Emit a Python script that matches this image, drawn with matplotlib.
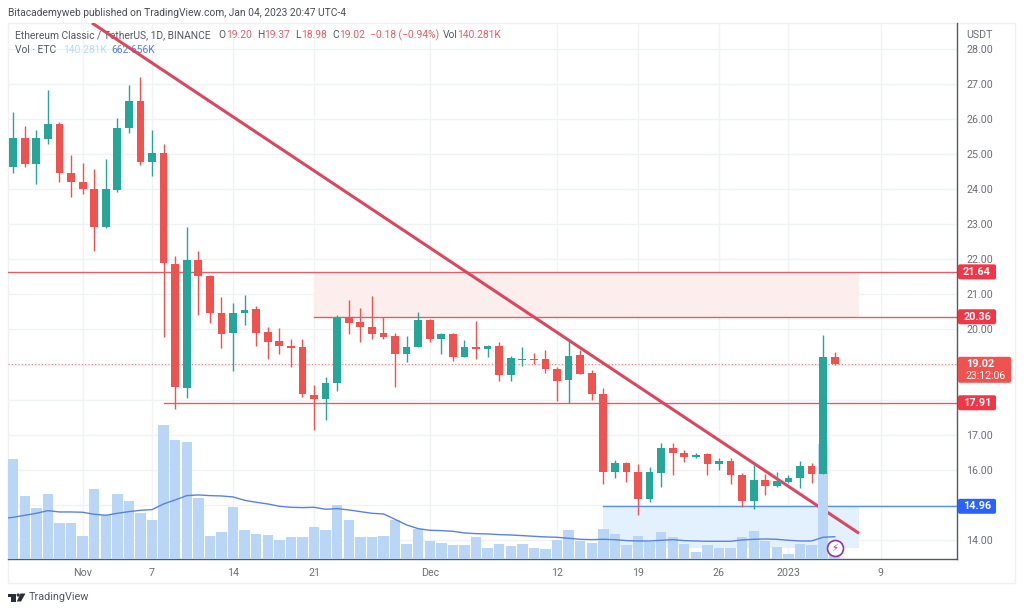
import matplotlib
matplotlib.use("Agg")
import matplotlib.pyplot as plt
from matplotlib.patches import FancyBboxPatch, Polygon, Circle, Rectangle
from matplotlib.transforms import Affine2D
import numpy as np

plt.rcParams['font.family'] = ['Roboto', 'DejaVu Sans']

# days counted from Nov 1 2022, first candle is Oct 26
days = np.arange(-6, 66)
opens = [24.64,25.45,24.71,25.43,25.84,24.46,24.21,23.99,22.93,23.97,25.73,26.50,24.78,25.02,21.86,18.32,21.98,21.53,
         20.48,19.89,20.46,20.57,19.92,19.67,19.54,19.49,18.14,18.01,18.48,20.34,20.20,20.08,19.89,19.81,19.30,19.49,
         20.27,19.72,19.86,19.21,19.49,19.43,19.54,18.69,19.13,19.16,19.15,18.88,18.55,19.27,18.76,18.17,15.93,16.19,
         15.95,15.17,15.91,16.63,16.49,16.37,16.46,16.17,16.26,15.85,15.10,15.70,15.54,15.66,15.76,16.12,15.88,19.20]
closes = [25.44,24.71,25.45,25.84,24.46,24.21,23.99,22.93,23.99,25.74,26.50,24.78,25.02,21.88,18.35,21.98,21.53,20.46,
          19.87,20.48,20.54,19.89,19.64,19.53,19.47,18.16,18.01,18.46,20.33,20.18,20.06,19.87,19.79,19.30,19.49,20.27,
          19.72,19.86,19.21,19.49,19.43,19.54,18.69,19.18,19.16,19.13,18.87,18.52,19.24,18.74,18.16,15.94,16.19,15.93,
          15.17,15.93,16.63,16.47,16.37,16.43,16.17,16.24,15.85,15.10,15.70,15.54,15.68,15.77,16.12,15.88,19.21,19.02]
highs = [26.20,25.80,25.68,26.82,25.91,24.97,24.74,24.57,24.86,26.01,26.96,27.18,25.68,25.27,22.10,22.93,22.24,21.55,
         20.91,20.74,20.98,20.67,20.06,20.03,19.73,19.72,18.42,18.65,20.41,20.84,20.62,20.96,20.36,19.91,19.82,20.49,
         20.29,19.91,19.91,19.70,20.25,19.56,19.64,19.24,19.49,19.34,19.41,18.93,19.74,19.41,18.84,18.34,16.28,16.23,
         16.17,16.09,16.77,16.75,16.56,16.47,16.49,16.33,16.33,15.90,16.14,15.88,15.95,15.85,16.26,16.19,19.84,19.37]
lows = [24.45,24.64,24.14,25.27,24.21,23.77,23.86,22.24,22.88,23.91,25.59,24.68,24.38,19.79,17.72,18.05,20.41,20.17,
        19.46,18.81,20.13,19.53,19.16,19.29,18.94,18.07,17.13,17.42,18.25,19.86,19.64,19.72,19.72,18.37,19.08,19.49,
        19.65,19.30,19.11,19.21,19.15,19.21,18.54,18.54,18.97,19.01,18.75,17.96,17.89,18.74,17.99,15.60,15.76,15.66,
        14.71,15.09,15.52,15.85,16.23,16.34,15.85,15.99,15.60,14.95,14.87,15.28,15.52,15.62,15.47,15.63,15.88,18.98]
# volume in thousands of ETC
volume = [2931,1866,1514,1905,1065,1065,684,2071,1290,1905,1700,1348,1153,3937,3498,3429,1798,684,791,1544,860,743,713,
          567,664,645,957,860,1583,1143,664,645,684,1153,449,889,547,489,410,410,664,332,449,401,440,332,303,567,860,
          547,489,889,743,420,684,518,811,655,440,205,410,332,332,655,840,537,361,156,449,420,3380,140]
# the average starts one day earlier, the pane cuts that candle off
ma_days = np.arange(-7, 66)
vol_ma = [1190,1231,1290,1348,1426,1387,1387,1378,1319,1290,1348,1397,1436,1456,1622,1739,1866,1886,1866,1856,1827,1729,
          1671,1622,1553,1524,1514,1524,1466,1485,1446,1397,1348,1329,1172,1006,899,850,840,821,772,752,743,723,713,694,
          674,655,645,616,586,576,586,576,547,537,537,557,576,547,537,528,528,528,567,586,596,586,557,537,537,645,663]

tick_days = [0, 6, 13, 20, 30, 41, 48, 55, 61, 69]
tick_names = ['Nov', '7', '14', '21', 'Dec', '12', '19', '26', '2023', '9']
price_ticks = list(range(14, 29))
hidden_prices = [15, 18, 19]

level_resist_hi = 21.64
level_resist_lo = 20.36
level_support = 17.91
level_blue = 14.96
last_price = 19.02
blue_zone_low = 13.76
trend_days = [0.81, 67.1]
trend_prices = [28.73, 14.19]

TEAL = '#26a69a'
RED = '#ef5350'
TAG_RED = '#f23645'
BLUE = '#2962ff'
GRID = '#eff3f4'
GREY = '#6b6e78'
TXT = '#555862'

W, H = 1024, 613
fig = plt.figure(figsize=(W / 100, H / 100), dpi=100, facecolor='white')
# chart pane in pixels: x 8..957, y 23..559.3
ax = fig.add_axes([8 / W, 1 - 559.3 / H, 949 / W, 536.3 / H])
ax.set_xlim(-6.45, 75.57)
ax.set_ylim(13.45, 28.73)
px = Affine2D().scale(1, -1).translate(0, H)


def price_y(p):
    return 540 - (p - 14) * 35.1


def ptext(x, y, s, color=TXT, size=7.4, **kw):
    return ax.text(x, y, s, color=color, fontsize=size, transform=px, va='center', clip_on=False, zorder=2, **kw)


# zones and levels
ax.add_patch(Rectangle((20, level_resist_lo), 47.1, level_resist_hi - level_resist_lo, color='#fdeeee', lw=0, zorder=1))
ax.add_patch(Rectangle((45, blue_zone_low), 22.1, level_blue - blue_zone_low, color='#e3f0fd', lw=0, zorder=1))
ax.plot([-6.45, 75.57], [level_resist_hi] * 2, color='#e0606a', lw=1, zorder=1.5)
ax.plot([20, 75.57], [level_resist_lo] * 2, color='#e0606a', lw=1, zorder=1.5)
ax.plot([7, 75.57], [level_support] * 2, color='#e0606a', lw=1, zorder=1.5)
ax.plot([45, 75.57], [level_blue] * 2, color='#5b8fe0', lw=1, zorder=1.5)
ax.plot([-6.45, 75.57], [last_price] * 2, color='#ef7a78', lw=0.8, ls=(0, (1, 2)), zorder=1.5)
ax.plot(trend_days, trend_prices, color='#d9485f', lw=2.2, zorder=3, solid_capstyle='butt')

# volume pane shares the price pane, scaled so the big bar fits low down
vax = ax.twinx()
vax.set_position(ax.get_position())
vax.set_ylim(0, 536.3 * 29.3)
vax.axis('off')
vax.bar(days, volume, width=0.9, color='#b9d6f7', lw=0, zorder=4)
vax.plot(ma_days, vol_ma, color='#5b83d6', lw=1, zorder=5)

# candles
cax = ax.twinx()
cax.set_position(ax.get_position())
cax.set_ylim(ax.get_ylim())
cax.axis('off')
colors = [TEAL if c >= o else RED for o, c in zip(opens, closes)]
cax.vlines(days, lows, highs, colors=colors, lw=1, zorder=6)
bottoms = np.minimum(opens, closes)
heights = np.abs(np.array(closes) - np.array(opens))
cax.bar(days, heights, bottom=bottoms, width=0.67, color=colors, lw=0, zorder=7)

# bolt marker on the last bar
cax.plot([65], [13.77], 'o', ms=11.5, mfc='white', mec='#8e35a8', mew=1.2, zorder=8, clip_on=False)
cax.text(65, 13.77, '\u26a1', color='#8e35a8', fontsize=7, ha='center', va='center', family='DejaVu Sans', zorder=9)

# grid and ticks, twinx moved the price ticks so set them after
ax.set_axisbelow(True)
ax.grid(True, color=GRID, lw=1)
ax.set_xticks(tick_days)
ax.set_xticklabels(tick_names)
ax.set_yticks(price_ticks)
ax.set_yticklabels(['' if p in hidden_prices else '%.2f' % p for p in price_ticks])
ax.yaxis.tick_right()
ax.tick_params(axis='both', length=0, labelsize=7.7, labelcolor=GREY)
ax.tick_params(axis='x', pad=6)
ax.tick_params(axis='y', pad=6.5)
for s in ['top', 'left']:
    ax.spines[s].set_visible(False)
for s in ['bottom', 'right']:
    ax.spines[s].set_color('#555a60')
    ax.spines[s].set_linewidth(1)

# header
ptext(8, 12.5, 'Bitacademyweb published on TradingView.com, Jan 04, 2023 20:47 UTC-4', color='#4a4d55')
ptext(15, 35.5, 'Ethereum Classic / TetherUS, 1D, BINANCE')
for x, s, c in [(218, 'O', TXT), (226, '19.20', '#d9626a'), (257, 'H', TXT), (264, '19.37', '#d9626a'),
                (295, 'L', TXT), (301, '18.98', '#d9626a'), (332, 'C', TXT), (339, '19.02', '#d9626a'),
                (370, '\u22120.18 (\u22120.94%)', '#d9626a'), (443, 'Vol', TXT), (457, '140.281K', '#d9626a')]:
    ptext(x, 35.5, s, color=c)
ptext(15, 50, 'Vol \u00b7 ETC')
ptext(63, 50, '140.281K', color='#bcd8f8')
ptext(111, 50, '662.656K', color='#4f7fdc')
ptext(966, 34.5, 'USDT', color=GREY, size=7.7)

# outer frame
ax.add_patch(Rectangle((8, 23), 1007, 559.5, transform=px, fill=False, ec='#f0f0f2', lw=1, clip_on=False, zorder=0))


# price tags
def tag(p, s, color):
    y = price_y(p)
    ax.add_patch(FancyBboxPatch((958, y - 7.5), 38, 15, boxstyle='round,pad=0,rounding_size=2', transform=px,
                                fc=color, ec='none', clip_on=False, zorder=10))
    ax.text(977, y, s, transform=px, color='white', fontsize=7.8, fontweight='bold', ha='center', va='center',
            clip_on=False, zorder=11)


tag(level_resist_hi, '21.64', TAG_RED)
tag(level_resist_lo, '20.36', TAG_RED)
tag(level_support, '17.91', TAG_RED)
tag(level_blue, '14.96', BLUE)
y_last = price_y(last_price)
ax.add_patch(FancyBboxPatch((958, y_last - 7), 53, 26, boxstyle='round,pad=0,rounding_size=2', transform=px,
                            fc=RED, ec='none', clip_on=False, zorder=10))
ax.text(966, y_last, '19.02', transform=px, color='white', fontsize=7.8, fontweight='bold', va='center',
        clip_on=False, zorder=11)
ax.text(966, y_last + 12.5, '23:12:06', transform=px, color='white', fontsize=7.6, va='center',
        clip_on=False, zorder=11)

# TradingView logo
for pts in [[(8, 593.5), (15.5, 593.5), (15.5, 601.5), (11, 601.5), (11, 596.5), (8, 596.5)],
            [(20.5, 593.5), (25.5, 593.5), (21, 601.5), (16.8, 601.5)]]:
    ax.add_patch(Polygon(pts, transform=px, fc='#2a2e39', ec='none', clip_on=False))
ax.add_patch(Circle((18.2, 595), 1.6, transform=px, fc='#2a2e39', ec='none', clip_on=False))
ptext(29, 597.5, 'TradingView', color='#555862', size=7.8)

fig.savefig('out.png', dpi=100, facecolor='white')
